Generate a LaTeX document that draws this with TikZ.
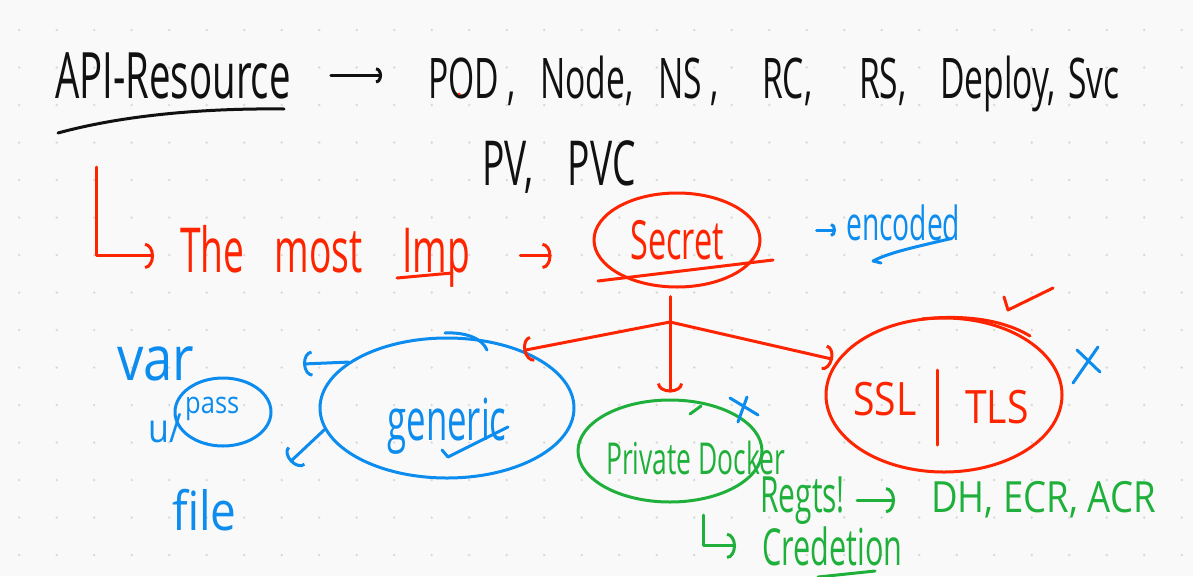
\documentclass[tikz,border=0pt]{standalone}
\usepackage{fontspec}
\newfontfamily\handnarrow[FakeStretch=0.6]{Open Sans}
\newfontfamily\handwide[FakeStretch=0.85]{Open Sans}
\usetikzlibrary{arrows.meta, shapes.geometric, positioning}

\definecolor{inkblack}{RGB}{17,17,17}
\definecolor{inkred}{RGB}{255,36,0}
\definecolor{inkblue}{RGB}{12,140,238}
\definecolor{inkgreen}{RGB}{30,176,58}
\definecolor{paper}{RGB}{249,249,249}

\begin{document}
\begin{tikzpicture}[
  x=1pt, y=-1pt,
  line cap=round,
  line join=round,
  pen/.style={line width=3pt},
  hand/.style={inner sep=0pt, anchor=base west},
  loop/.style={draw, ellipse, pen, inner sep=0pt},
  hook/.style={pen, -{Arc Barb[length=9pt, width=26pt]}},
  kind/.style={hand, text=inkblack, font=\handnarrow\fontsize{56}{70}\selectfont}
]
  % Page with dot grid
  \useasboundingbox (0,0) rectangle (1193,576);
  \fill[paper] (0,0) rectangle (1193,576);
  \foreach \i in {0,...,31} {
    \foreach \j in {0,...,14} {
      \fill[gray!30] (19.2+37.5*\i, 30+37.5*\j) circle (1.3pt);
    }
  }

  % API resources (black)
  \node[hand, text=inkblack, font=\handnarrow\fontsize{64}{70}\selectfont]
    (api) at (55,98) {API-Resource};
  \draw[pen, inkblack]
    (58,133) .. controls (120,116) and (200,108) .. (284,109);
  \node[kind] (pod) at (428,98) {POD ,};
  \node[kind] (node) at (540,98) {Node,};
  \node[kind] (ns) at (658,98) {NS ,};
  \node[kind] (rc) at (762,98) {RC,};
  \node[kind] (rs) at (859,98) {RS,};
  \node[kind] (deploy) at (940,98) {Deploy,};
  \node[kind] (svc) at (1068,98) {Svc};
  \draw[pen, inkblack, -{Arc Barb[length=6pt, width=16pt]},
    shorten <=40pt, shorten >=46pt]
    (api.east) -- (api.east -| pod.west);
  \fill[inkred] (459,94) circle (1.5pt);
  \node[hand, text=inkblack, font=\handnarrow\fontsize{62}{70}\selectfont]
    (pvs) at (482,185) {PV,\hspace{34pt}PVC};

  % The most important one (red)
  \coordinate (lstart) at (96,167);
  \node[hand, text=inkred, font=\handnarrow\fontsize{62}{70}\selectfont]
    (most) at (180,272) {The\hspace{30pt}most\hspace{40pt}Imp};
  \draw[pen, inkred] (397,278) -- (452,273);
  \draw[hook, inkred, shorten >=26pt] (lstart) |- (most.west);
  \node[loop, inkred, minimum width=166pt, minimum height=94pt,
    text=inkred, font=\handnarrow\fontsize{54}{60}\selectfont]
    (secret) at (677,240) {Secret};
  \draw[pen, inkred] (598,281) -- (773,260);
  \draw[hook, inkred, shorten <=50pt, shorten >=41pt]
    (most.east) -- (most.east -| secret.west);
  \draw[pen, inkred] (1004,297) -- (1008,310) -- (1053,288);

  % Encoded note (blue)
  \node[hand, text=inkblue, font=\handnarrow\fontsize{47}{54}\selectfont]
    (enc) at (846,240) {encoded};
  \draw[pen, inkblue, -{Arc Barb[length=5pt, width=14pt]},
    shorten <=55pt, shorten >=10pt]
    (secret.east) ++(0,-10) coordinate (encfrom) -- (encfrom -| enc.west);
  \draw[pen, inkblue]
    (949,239) .. controls (920,246) and (890,252) .. (873,261) -- (881,263);

  % Secret types
  \node[loop, inkblue, minimum width=254pt, minimum height=140pt]
    (generic) at (447,408) {};
  \node[inner sep=0pt, anchor=base, text=inkblue,
    font=\handnarrow\fontsize{58}{64}\selectfont]
    (genericlbl) at (447,440) {generic};
  \node[loop, inkgreen, minimum width=184pt, minimum height=102pt]
    (private) at (670,451) {};
  \node[hand, text=inkgreen, font=\handnarrow\fontsize{44}{52}\selectfont]
    (privatelbl) at (606,474) {Private Docker};
  \node[loop, inkred, minimum width=236pt, minimum height=154pt]
    (ssl) at (944,395) {};
  \node[inner sep=0pt, anchor=base, text=inkred,
    font=\handwide\fontsize{46}{52}\selectfont]
    (ssllbl) at (885,415) {SSL};
  \node[inner sep=0pt, anchor=base, text=inkred,
    font=\handwide\fontsize{46}{52}\selectfont]
    (tlslbl) at (997,423) {TLS};
  \draw[pen, inkred] (937,370) -- (937,445);
  \draw[pen, inkred] (922,319) .. controls (960,315) and (1000,318) .. (1030,336);

  % Tree under secret
  \coordinate (fork) at (670,322);
  \draw[pen, inkred, shorten <=8pt] (fork |- secret.south) -- (fork);
  \draw[hook, inkred] (fork) -- (generic.37);
  \draw[hook, inkred, shorten >=6pt] (fork) -- (private.north);
  \draw[hook, inkred, shorten >=4pt] (fork) -- (ssl.162);

  % Generic details (blue)
  \draw[pen, inkblue] (442,450) -- (448,457) -- (508,427);
  \draw[pen, inkblue] (445,333) .. controls (465,332) and (482,338) .. (487,350);
  \coordinate (varend) at (303,364);
  \coordinate (fileend) at (290,462);
  \draw[hook, inkblue] (generic.155) -- (varend);
  \draw[hook, inkblue] (generic.190) -- (fileend);
  \node[hand, text=inkblue, font=\handwide\fontsize{62}{66}\selectfont]
    (var) at (117,380) {var};
  \node[hand, text=inkblue, font=\handwide\fontsize{40}{46}\selectfont]
    (user) at (148,442) {u/};
  \node[loop, inkblue, minimum width=96pt, minimum height=68pt]
    (passloop) at (223,412) {};
  \node[hand, text=inkblue, font=\handwide\fontsize{30}{36}\selectfont]
    (pass) at (185,413) {pass};
  \node[hand, text=inkblue, font=\handwide\fontsize{54}{58}\selectfont]
    (file) at (172,530) {file};

  % Private docker details (green)
  \draw[pen, inkgreen] (690,414) -- (701,406);
  \draw[pen, inkblue] (730,398) -- (758,415) (747,397) -- (738,422);
  \node[hand, text=inkgreen, font=\handnarrow\fontsize{50}{58}\selectfont]
    (regts) at (760,512) {Regts!};
  \node[hand, text=inkgreen, font=\handwide\fontsize{43}{50}\selectfont]
    (dh) at (931,512) {DH, ECR, ACR};
  \draw[hook, inkgreen, shorten <=12pt, shorten >=36pt]
    (regts.east) -- (regts.east -| dh.west);
  \coordinate (credstart) at (703,515);
  \node[hand, text=inkgreen, font=\handnarrow\fontsize{51}{58}\selectfont]
    (cred) at (762,565) {Credetion};
  \draw[hook, inkgreen, shorten >=26pt] (credstart) |- (cred.west);
  \draw[pen, inkgreen] (818,577) -- (875,571);

  % Marks by SSL (blue)
  \draw[pen, inkblue] (1077,350) -- (1100,372) (1098,347) -- (1073,383);
\end{tikzpicture}
\end{document}
